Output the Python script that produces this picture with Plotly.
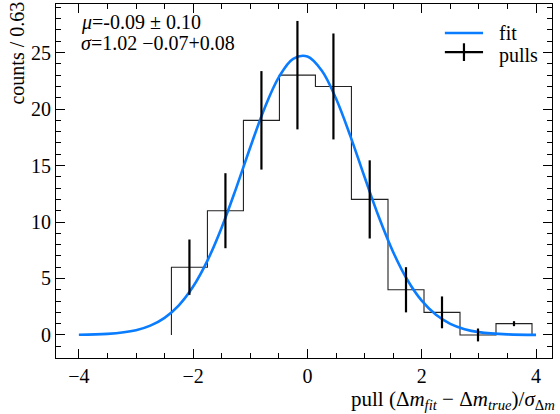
import plotly.graph_objects as go

# ---- data ----
bin_edges = [-2.38, -1.75, -1.12, -0.49, 0.14, 0.77, 1.41, 2.04, 2.67, 3.30, 3.93]
counts = [6, 11, 19, 23, 22, 12, 4, 2, 0, 1]
pull_err = [2.45, 3.32, 4.36, 4.80, 4.69, 3.46, 2.00, 1.41, 0.57, 0.22]

fit_x = [-4.0, -3.5, -3.0, -2.75, -2.5, -2.25, -2.0, -1.75, -1.5, -1.25, -1.0, -0.75,
         -0.5, -0.25, 0.0, 0.25, 0.5, 0.75, 1.0, 1.25, 1.5, 1.75, 2.0, 2.25, 2.5,
         2.75, 3.0, 3.5, 4.0]
fit_y = [0.016, 0.093, 0.423, 0.826, 1.518, 2.628, 4.287, 6.584, 9.52, 12.96, 16.62,
         20.08, 22.83, 24.45, 24.65, 23.41, 20.94, 17.63, 13.98, 10.44, 7.344, 4.864,
         3.034, 1.782, 0.985, 0.513, 0.252, 0.051, 0.008]

x_ticks = [-4, -2, 0, 2, 4]
y_ticks = [0, 5, 10, 15, 20, 25]

FONT = "Liberation Serif"
BLUE = "#0a7cff"

centers = [(bin_edges[i] + bin_edges[i + 1]) / 2 for i in range(len(counts))]
step_x = [bin_edges[0]] + bin_edges[:-1] + [bin_edges[-1], bin_edges[-1]]
step_y = [0] + counts + [counts[-1], 0]

fig = go.Figure()
fig.add_trace(go.Scatter(x=step_x, y=step_y, mode="lines", line_shape="hv",
                         line=dict(color="#222222", width=1.1), showlegend=False,
                         hoverinfo="skip"))
fig.add_trace(go.Scatter(x=fit_x, y=fit_y, mode="lines", line_shape="spline",
                         line=dict(color=BLUE, width=2.6), name="fit", showlegend=False))
fig.add_trace(go.Scatter(x=centers, y=counts, mode="markers",
                         marker=dict(size=1, color="rgba(0,0,0,0)"),
                         error_y=dict(type="data", array=pull_err, visible=True,
                                      color="black", thickness=2.2, width=0),
                         name="pulls", showlegend=False))

axis_common = dict(showline=True, linecolor="black", linewidth=1, mirror="ticks",
                   ticks="inside", ticklen=9, tickwidth=1, tickcolor="black",
                   showgrid=False, zeroline=False,
                   tickfont=dict(family=FONT, size=20, color="black"))

fig.update_xaxes(range=[-4.40, 4.28], tickvals=x_ticks,
                 minor=dict(dtick=0.5, tick0=0, ticks="inside", ticklen=5,
                            tickwidth=1, tickcolor="black", showgrid=False),
                 **axis_common)
fig.update_yaxes(range=[-2.04, 29.3], tickvals=y_ticks,
                 minor=dict(dtick=1, tick0=0, ticks="inside", ticklen=5,
                            tickwidth=1, tickcolor="black", showgrid=False),
                 **axis_common)

# custom legend (line + errorbar cross)
shapes = [
    dict(type="line", xref="paper", yref="paper", x0=0.784, x1=0.861, y0=0.918, y1=0.918,
         line=dict(color=BLUE, width=2.6)),
    dict(type="line", xref="paper", yref="paper", x0=0.784, x1=0.861, y0=0.864, y1=0.864,
         line=dict(color="black", width=2.2)),
    dict(type="line", xref="paper", yref="paper", x0=0.8225, x1=0.8225, y0=0.839, y1=0.889,
         line=dict(color="black", width=2.2)),
]
fig.update_layout(shapes=shapes)

txt = dict(family=FONT, size=20, color="black")
ann = [
    dict(text="fit", x=0.889, y=0.918, xref="paper", yref="paper", xanchor="left",
         yanchor="middle", showarrow=False, font=txt),
    dict(text="pulls", x=0.889, y=0.855, xref="paper", yref="paper", xanchor="left",
         yanchor="middle", showarrow=False, font=txt),
    dict(text="<i>μ</i>=-0.09 ± 0.10", x=0.046, y=0.949, xref="paper", yref="paper",
         xanchor="left", yanchor="middle", showarrow=False, font=txt),
    dict(text="<i>σ</i>=1.02 −0.07+0.08", x=0.046, y=0.890, xref="paper", yref="paper",
         xanchor="left", yanchor="middle", showarrow=False, font=txt),
    dict(text="pull (Δ<i>m</i><sub><i>fit</i></sub> − Δ<i>m</i><sub><i>true</i></sub>)/<i>σ</i><sub>Δ<i>m</i></sub>",
         x=1.010, y=-0.118, xref="paper", yref="paper", xanchor="right", yanchor="middle",
         showarrow=False, font=dict(family=FONT, size=21, color="black")),
    dict(text="counts / 0.63", x=-0.0786, y=1.0113, xref="paper", yref="paper",
         xanchor="center", yanchor="top", textangle=-90, showarrow=False, font=txt),
]
fig.update_layout(annotations=ann)

fig.update_layout(width=560, height=414, margin=dict(l=56, r=8, t=4, b=56),
                  paper_bgcolor="white", plot_bgcolor="white",
                  font=dict(family=FONT, size=20, color="black"), showlegend=False)

fig.write_html("out.html")
